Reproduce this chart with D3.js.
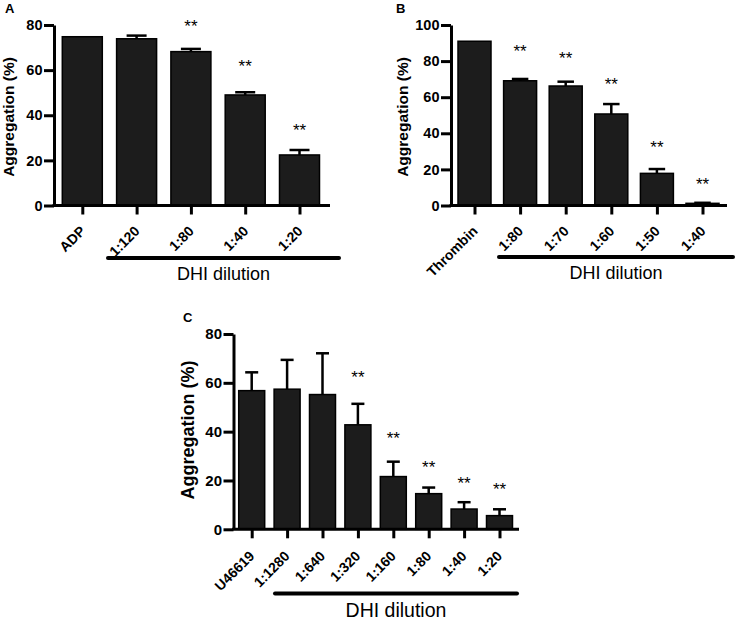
<!DOCTYPE html>
<html>
<head>
<meta charset="utf-8">
<script src="https://cdn.jsdelivr.net/npm/d3@7"></script>
<style>
    body { margin: 0; background: #fff; }
    svg { display: block; }
    text { font-family: "Liberation Sans", Arial, sans-serif; fill: #000; }
</style>
</head>
<body>
<svg id="plate" width="737" height="622"></svg>
<script>
// panel A
var catsA = ['ADP', '1:120', '1:80', '1:40', '1:20'];
var meanA = [74.8, 73.9, 68.2, 49.0, 22.4];
var errA = [0, 1.4, 1.2, 1.2, 2.2];
var starA = [null, null, 80.9, 63.2, 35.2];
var ticksA = [0, 20, 40, 60, 80];

// panel B
var catsB = ['Thrombin', '1:80', '1:70', '1:60', '1:50', '1:40'];
var meanB = [91.0, 69.1, 66.2, 50.7, 17.8, 1.2];
var errB = [0, 1.0, 2.4, 5.5, 2.4, 0.3];
var starB = [null, 87.6, 83.8, 69.1, 34.1, 13.7];
var ticksB = [0, 20, 40, 60, 80, 100];

// panel C
var catsC = ['U46619', '1:1280', '1:640', '1:320', '1:160', '1:80', '1:40', '1:20'];
var meanC = [56.8, 57.4, 55.2, 42.8, 21.6, 14.6, 8.3, 5.6];
var errC = [7.5, 12.0, 16.9, 8.6, 6.1, 2.5, 2.8, 2.6];
var starC = [null, null, null, 63.7, 38.7, 26.8, 20.2, 17.9];
var ticksC = [0, 20, 40, 60, 80];

var yTitle = 'Aggregation (%)';
var groupTitle = 'DHI dilution';
var FONT = '"Liberation Sans", Arial, sans-serif';

var svg = d3.select('#plate');

function drawPanel(p) {
    var g = svg.append('g');
    var n = p.cats.length;

    // set the ranges
    var x = d3.scalePoint().domain(p.cats)
        .range([p.first, p.first + p.step * (n - 1)]);
    var y = d3.scaleLinear().domain([0, d3.max(p.ticks)]).range([p.y0, p.yTop]);

    var rows = p.cats.map((c, i) => ({cat: c, mean: p.mean[i], err: p.err[i], star: p.star[i]}));

    // bars
    g.selectAll('rect.bar')
        .data(rows)
        .enter().append('rect')
        .attr('class', 'bar')
        .attr('x', (d) => x(d.cat) - p.barW / 2)
        .attr('width', p.barW)
        .attr('y', (d) => y(d.mean))
        .attr('height', (d) => y(0) - y(d.mean))
        .attr('fill', '#1c1c1c')
        .attr('stroke', '#000')
        .attr('stroke-width', 1.5);

    // error bars (upper half only)
    var eb = g.selectAll('g.err')
        .data(rows.filter((d) => d.err > 0))
        .enter().append('g')
        .attr('class', 'err')
        .attr('stroke', '#000')
        .attr('stroke-width', 2.5);
    eb.append('line')
        .attr('x1', (d) => x(d.cat)).attr('x2', (d) => x(d.cat))
        .attr('y1', (d) => y(d.mean)).attr('y2', (d) => y(d.mean + d.err));
    eb.append('line')
        .attr('x1', (d) => x(d.cat) - p.barW / 4).attr('x2', (d) => x(d.cat) + p.barW / 4)
        .attr('y1', (d) => y(d.mean + d.err)).attr('y2', (d) => y(d.mean + d.err));

    // significance stars
    g.selectAll('text.star')
        .data(rows.filter((d) => d.star != null))
        .enter().append('text')
        .attr('class', 'star')
        .attr('x', (d) => x(d.cat))
        .attr('y', (d) => y(d.star) + 9.5)
        .attr('text-anchor', 'middle')
        .style('font-size', '17px')
        .text('**');

    // Y axis
    var ya = g.append('g')
        .attr('transform', 'translate(' + p.axisX + ',0)')
        .call(d3.axisLeft(y).tickValues(p.ticks).tickSize(10).tickSizeOuter(0));
    ya.select('.domain').attr('stroke-width', 3);
    ya.selectAll('.tick line').attr('stroke-width', 3);
    ya.selectAll('.tick text')
        .attr('x', -11.5)
        .style('font-size', p.tickSize + 'px')
        .style('font-weight', 'bold')
        .style('font-family', FONT);

    // X axis: ticks only, labels drawn separately
    var xa = g.append('g')
        .attr('transform', 'translate(0,' + p.y0 + ')')
        .call(d3.axisBottom(x).tickSize(p.tickLen).tickSizeOuter(0).tickFormat(''));
    xa.select('.domain').remove();
    xa.selectAll('.tick line').attr('stroke-width', 3);
    xa.append('line')
        .attr('x1', p.axisX - 1.5).attr('x2', p.axisEnd)
        .attr('stroke', '#000').attr('stroke-width', 3);

    g.selectAll('text.xlbl')
        .data(p.cats)
        .enter().append('text')
        .attr('class', 'xlbl')
        .attr('text-anchor', 'end')
        .attr('dy', '0.35em')
        .attr('transform', (d) => 'translate(' + (x(d) + p.lblDx) + ',' + (p.y0 + p.lblDy) + ') rotate(-45)')
        .style('font-size', p.lblSize + 'px')
        .style('font-weight', 'bold')
        .text((d) => d);

    // group bracket and title
    g.append('line')
        .attr('x1', p.grp[0]).attr('x2', p.grp[1])
        .attr('y1', p.grp[2]).attr('y2', p.grp[2])
        .attr('stroke', '#000').attr('stroke-width', 4)
        .attr('stroke-linecap', 'round');
    g.append('text')
        .attr('x', (p.grp[0] + p.grp[1]) / 2)
        .attr('y', p.grp[2] + p.grpDy)
        .attr('text-anchor', 'middle')
        .style('font-size', p.grpSize + 'px')
        .text(groupTitle);

    // y title
    g.append('text')
        .attr('transform', 'translate(' + p.yLbl[0] + ',' + p.yLbl[1] + ') rotate(-90)')
        .attr('text-anchor', 'middle')
        .style('font-size', p.yLbl[2] + 'px')
        .style('font-weight', 'bold')
        .text(yTitle);

    // panel letter
    g.append('text')
        .attr('x', p.tag[1]).attr('y', p.tag[2])
        .style('font-size', '13px')
        .style('font-weight', 'bold')
        .text(p.tag[0]);
}

drawPanel({
    cats: catsA, mean: meanA, err: errA, star: starA, ticks: ticksA,
    axisX: 54, axisEnd: 330, y0: 205.5, yTop: 25,
    first: 82.3, step: 54.3, barW: 40, tickLen: 9, tickSize: 14.5,
    lblDx: 0.5, lblDy: 23, lblSize: 14,
    grp: [108, 339, 258], grpDy: 22, grpSize: 18,
    yLbl: [13.5, 117, 15.5], tag: ['A', 5, 13]
});

drawPanel({
    cats: catsB, mean: meanB, err: errB, star: starB, ticks: ticksB,
    axisX: 451, axisEnd: 727, y0: 205.5, yTop: 25,
    first: 474.5, step: 45.6, barW: 33, tickLen: 9, tickSize: 14.5,
    lblDx: 0.5, lblDy: 23, lblSize: 14,
    grp: [499, 733, 257], grpDy: 22, grpSize: 18,
    yLbl: [407.5, 117, 15.5], tag: ['B', 396, 13]
});

drawPanel({
    cats: catsC, mean: meanC, err: errC, star: starC, ticks: ticksC,
    axisX: 233.5, axisEnd: 519, y0: 529.3, yTop: 334,
    first: 251.7, step: 35.4, barW: 26, tickLen: 9, tickSize: 15,
    lblDx: 0, lblDy: 24.3, lblSize: 14,
    grp: [275, 517, 593.5], grpDy: 23.4, grpSize: 19.5,
    yLbl: [194, 430, 18], tag: ['C', 183, 322]
});
</script>
</body>
</html>
